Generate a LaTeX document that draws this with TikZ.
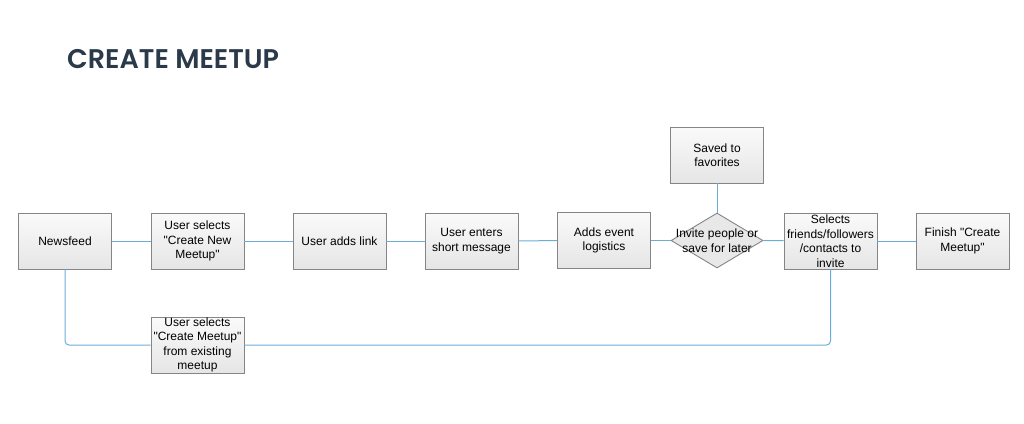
\documentclass[tikz,border=0pt]{standalone}
\usepackage{fontspec}
\setmainfont{Liberation Sans}[Ligatures=TeXOff]
\newfontfamily\titlefont{Poppins}[UprightFont=* SemiBold]
\usetikzlibrary{shapes.geometric}
\definecolor{linec}{HTML}{6AAED6}
\definecolor{boxline}{HTML}{858585}
\definecolor{titlec}{HTML}{2B3A4A}
\tikzset{
  stepbox/.style={draw=boxline, line width=0.9pt, top color=gray!4, bottom color=gray!20,
    minimum width=93pt, minimum height=56pt, inner sep=0pt, align=center,
    font=\fontsize{12}{14.5}\selectfont},
  decide/.style={diamond, draw=boxline, line width=0.9pt, fill=gray!18,
    minimum width=92pt, minimum height=55pt, inner sep=0pt, aspect=1.7},
  link/.style={draw=linec, line width=1pt, rounded corners=4pt}
}
\begin{document}
\begin{tikzpicture}[x=1pt,y=-1pt]
\useasboundingbox (0,0) rectangle (1024,423);
\node[anchor=base west, text=titlec, inner sep=0pt, font=\titlefont\fontsize{27}{30}\selectfont] (title) at (67,68) {CREATE MEETUP};
\node[stepbox] (news) at (65,241) {Newsfeed};
\node[stepbox] (cnew) at (197.5,241) {User selects\\"Create New\\Meetup"};
\node[stepbox] (addl) at (339.5,241) {User adds link};
\node[stepbox] (msg) at (471.5,241) {User enters\\short message};
\node[stepbox] (logi) at (604,240.5) {Adds event\\logistics};
\node[decide] (dec) at (717,240.5) {};
\node[align=center, inner sep=0pt, font=\fontsize{12}{14.5}\selectfont] (dect) at (717,240.5) {Invite people or\\save for later};
\node[stepbox] (fav) at (717,155) {Saved to\\favorites};
\node[stepbox] (sel) at (830.5,241) {Selects\\friends/followers\\/contacts to\\invite};
\node[stepbox] (fin) at (962.5,241) {Finish "Create\\Meetup"};
\node[stepbox] (exist) at (197.5,345) {User selects\\"Create Meetup"\\from existing\\meetup};
\draw[link] (news) -- (cnew);
\draw[link] (cnew) -- (addl);
\draw[link] (addl) -- (msg);
\draw[link] (msg) -- (logi);
\draw[link] (logi) -- (dec.west);
\draw[link] (dec.east) -- (sel);
\draw[link] (dec.north) -- (fav);
\draw[link] (sel) -- (fin);
\draw[link] (news.south) |- (exist.west);
\draw[link] (exist.east) -| (sel.south);
\end{tikzpicture}
\end{document}
